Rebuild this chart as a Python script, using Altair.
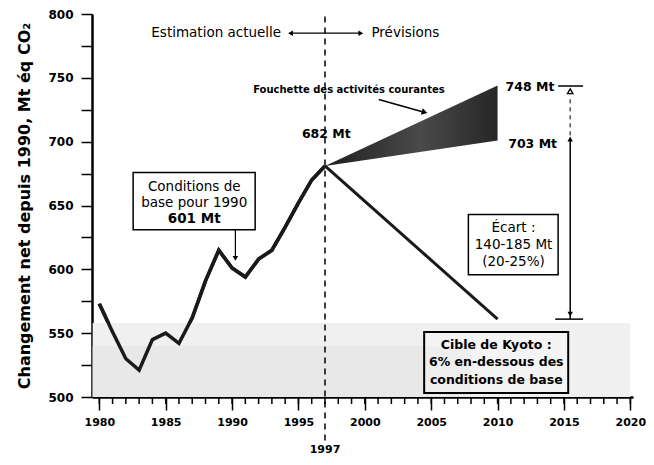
import altair as alt
import pandas as pd

# ---- data ----
years = list(range(1980, 1998))
emissions = [573, 551, 530, 521, 545, 550, 542, 562, 591, 615, 601, 594,
             608, 615, 633, 652, 670, 681]
proj_years = [1997, 2010]
proj_values = [681, 561]
range_years = [1997, 2010]
range_high = [681, 744]
range_low = [681, 701]
x_ticks = list(range(1980, 2021, 5))
y_ticks = list(range(500, 801, 25))
minor_years = list(range(1980, 2021))

W, H = 541, 383
XD = [1979.45, 2020.2]
YD = [500, 800]
FONT = "DejaVu Sans"

xs = alt.Scale(domain=XD, nice=False, zero=False)
ys = alt.Scale(domain=YD, nice=False, zero=False)

X_AXIS = alt.Axis(
    values=x_ticks, format="d", tickSize=13, tickWidth=1.5, tickColor="black",
    domainColor="black", domainWidth=2.5, labelFont=FONT, labelFontSize=11,
    labelFontWeight="bold", labelColor="black", labelPadding=6, grid=False, title=None)
Y_AXIS = alt.Axis(
    values=y_ticks, labelExpr="datum.value % 50 == 0 ? datum.label : ''",
    tickSize=11, tickWidth=1.5, tickColor="black", domainColor="black",
    domainWidth=2.5, labelFont=FONT, labelFontSize=12, labelFontWeight="bold",
    labelColor="black", labelPadding=8, grid=False,
    title="Changement net depuis 1990, Mt éq CO₂", titleFont=FONT,
    titleFontSize=16, titleFontWeight="bold", titleColor="black",
    titlePadding=15)


def X(f="x"):
    return alt.X(f, type="quantitative", scale=xs, axis=X_AXIS)


def Y(f="y"):
    return alt.Y(f, type="quantitative", scale=ys, axis=Y_AXIS)


def X2(f="x2"):
    return alt.X2(f)


def Y2(f="y2"):
    return alt.Y2(f)


def df(**cols):
    return pd.DataFrame(cols)


def txt(x, y, texts, size=12.5, weight="normal", align="center"):
    return alt.Chart(df(x=x, y=y, t=texts)).mark_text(
        font=FONT, fontSize=size, fontWeight=weight, align=align,
        baseline="middle", color="black").encode(x=X(), y=Y(), text="t:N")


layers = []

# historical line (first layer)
layers.append(alt.Chart(df(x=years, y=emissions)).mark_line(
    color="#1a1a1a", strokeWidth=3.5, strokeJoin="miter").encode(x=X(), y=Y()))

# background scan shading
layers.append(alt.Chart(df(x=[1979.5], x2=[2020.0], y=[500], y2=[558])).mark_rect(
    color="#f0f0f0").encode(x=X(), x2=X2(), y=Y(), y2=Y2()))
layers.append(alt.Chart(df(x=[1979.5], x2=[2008.0], y=[500], y2=[540])).mark_rect(
    color="#e8e8e8").encode(x=X(), x2=X2(), y=Y(), y2=Y2()))

# redraw line on top of shading
layers.append(alt.Chart(df(x=years, y=emissions)).mark_line(
    color="#1a1a1a", strokeWidth=3.5, strokeJoin="miter").encode(x=X(), y=Y()))

# minor x ticks
layers.append(alt.Chart(df(x=minor_years)).mark_rule(
    color="black", strokeWidth=1.5).encode(x=X(), y=alt.value(H), y2=alt.value(H + 7)))

# projection line
layers.append(alt.Chart(df(x=proj_years, y=proj_values)).mark_line(
    color="#1a1a1a", strokeWidth=3).encode(x=X(), y=Y()))

# current-activities wedge
layers.append(alt.Chart(df(x=range_years, y=range_high, y2=range_low)).mark_area(
    color=alt.Gradient(gradient="linear", x1=0, x2=1, y1=0, y2=0,
                       stops=[alt.GradientStop(offset=0, color="#1e1e1e"),
                              alt.GradientStop(offset=0.55, color="#4a4a4a"),
                              alt.GradientStop(offset=1, color="#262626")])).encode(
    x=X(), y=Y(), y2=Y2()))

# 1997 dashed divider
layers.append(alt.Chart(df(x=[1997], y=[798])).mark_rule(
    color="black", strokeWidth=1.5, strokeDash=[6, 5]).encode(
    x=X(), y=Y(), y2=alt.value(429)))

# Estimation / Prévisions arrows
layers.append(alt.Chart(df(x=[1997, 1997], x2=[1994.5, 1999.6], y=[785, 785])).mark_rule(
    color="black", strokeWidth=1.2).encode(x=X(), x2=X2(), y=Y()))
layers.append(alt.Chart(df(x=[1994.4], y=[785])).mark_point(
    shape="triangle-left", filled=True, size=30, color="black", opacity=1).encode(x=X(), y=Y()))
layers.append(alt.Chart(df(x=[1999.7], y=[785])).mark_point(
    shape="triangle-right", filled=True, size=30, color="black", opacity=1).encode(x=X(), y=Y()))

# Fouchette arrow
layers.append(alt.Chart(df(x=[2001.05], x2=[2004.4], y=[733], y2=[723.3])).mark_rule(
    color="black", strokeWidth=1.5).encode(x=X(), x2=X2(), y=Y(), y2=Y2()))
layers.append(alt.Chart(df(x=[2004.5], y=[723])).mark_point(
    shape="triangle-right", angle=16, filled=True, size=45, color="black", opacity=1).encode(
    x=X(), y=Y()))

# Conditions box arrow
layers.append(alt.Chart(df(x=[1990.25], y=[631], y2=[609])).mark_rule(
    color="black", strokeWidth=1.2).encode(x=X(), y=Y(), y2=Y2()))
layers.append(alt.Chart(df(x=[1990.25], y=[608.5])).mark_point(
    shape="triangle-down", filled=True, size=30, color="black", opacity=1).encode(x=X(), y=Y()))

# Écart bracket
layers.append(alt.Chart(df(x=[2014.56, 2014.34], x2=[2016.44, 2016.44], y=[743.6, 561])).mark_rule(
    color="black", strokeWidth=1.5).encode(x=X(), x2=X2(), y=Y()))
layers.append(alt.Chart(df(x=[2015.47], y=[561], y2=[703])).mark_rule(
    color="black", strokeWidth=1.5).encode(x=X(), y=Y(), y2=Y2()))
layers.append(alt.Chart(df(x=[2015.47], y=[705], y2=[736])).mark_rule(
    color="#555", strokeWidth=1.5, strokeDash=[4, 4]).encode(x=X(), y=Y(), y2=Y2()))
layers.append(alt.Chart(df(x=[2015.47], y=[739.5])).mark_point(
    shape="triangle-up", filled=False, size=30, color="black", strokeWidth=1.3,
    opacity=1).encode(x=X(), y=Y()))
layers.append(alt.Chart(df(x=[2015.47], y=[702])).mark_point(
    shape="triangle-up", filled=True, size=30, color="black", opacity=1).encode(x=X(), y=Y()))
layers.append(alt.Chart(df(x=[2015.47], y=[565])).mark_point(
    shape="triangle-down", filled=True, size=30, color="black", opacity=1).encode(x=X(), y=Y()))

# boxes
layers.append(alt.Chart(df(x=[1982.55, 2007.8], x2=[1991.74, 2014.56],
                           y=[675.8, 642.9], y2=[631.1, 595.8])).mark_rect(
    fill="white", stroke="black", strokeWidth=1.5).encode(x=X(), x2=X2(), y=Y(), y2=Y2()))
layers.append(alt.Chart(df(x=[2004.47], x2=[2015.32], y=[551], y2=[503.1])).mark_rect(
    fill="white", fillOpacity=0.25, stroke="black", strokeWidth=2).encode(
    x=X(), x2=X2(), y=Y(), y2=Y2()))

# texts
layers.append(txt([1993.7], [785], ["Estimation actuelle"], size=13.5, align="right"))
layers.append(txt([2000.5], [785], ["Prévisions"], size=13.5, align="left"))
layers.append(txt([1998.8], [740.2], ["Fouchette des activités courantes"], size=10, weight="bold"))
layers.append(txt([1997.1], [705.7], ["682 Mt"], size=12.5, weight="bold"))
layers.append(txt([2010.6, 2010.8], [742.5, 697.8], ["748 Mt", "703 Mt"], size=12.5,
                  weight="bold", align="left"))
layers.append(txt([1987.15, 1987.15], [664.8, 652.3], ["Conditions de", "base pour 1990"], size=13.5))
layers.append(txt([1987.15], [639.7], ["601 Mt"], size=13.5, weight="bold"))
layers.append(txt([2011.2] * 3, [632.7, 619.3, 606], ["Écart :", "140-185 Mt", "(20-25%)"], size=13.5))
layers.append(txt([2009.9] * 3, [540.8, 527.5, 513.3],
                  ["Cible de Kyoto :", "6% en-dessous des", "conditions de base"],
                  size=12.5, weight="bold"))

# 1997 label under the axis
layers.append(alt.Chart(df(x=[1997], t=["1997"])).mark_text(
    font=FONT, fontSize=11, fontWeight="bold", color="black", baseline="middle").encode(
    x=X(), y=alt.value(436), text="t:N"))

chart = alt.layer(*layers).properties(
    width=W, height=H,
    autosize=alt.AutoSizeParams(type="none"),
    padding={"left": 84, "top": 6, "right": 13, "bottom": 60},
    background="white",
).configure_view(stroke=None)

chart.save("out.html", embed_options={"renderer": "svg", "actions": False})
